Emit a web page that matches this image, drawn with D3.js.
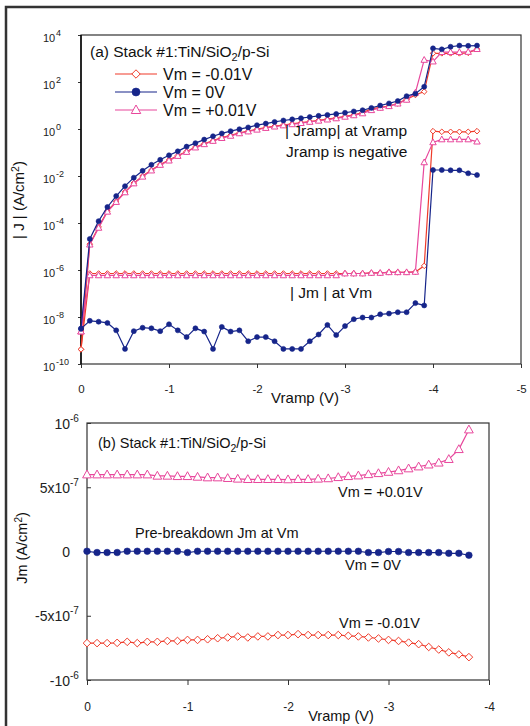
<!DOCTYPE html>
<html>
<head>
<meta charset="utf-8">
<script src="https://cdn.jsdelivr.net/npm/d3@7"></script>
<style>
  body { margin: 0; background: #fff; }
  svg { display: block; font-family: Arial, "Liberation Sans", sans-serif; }
</style>
</head>
<body>
<svg id="chart" width="530" height="726"></svg>
<script>
// ---------------- data : panel (a) ----------------
const vrampA = [0, -0.1, -0.2, -0.3, -0.4, -0.5, -0.6, -0.7, -0.8, -0.9,
  -1.0, -1.1, -1.2, -1.3, -1.4, -1.5, -1.6, -1.7, -1.8, -1.9,
  -2.0, -2.1, -2.2, -2.3, -2.4, -2.5, -2.6, -2.7, -2.8, -2.9,
  -3.0, -3.1, -3.2, -3.3, -3.4, -3.5, -3.6, -3.7, -3.8, -3.9,
  -4.0, -4.1, -4.2, -4.3, -4.4, -4.5];

// |Jramp| at Vramp (A/cm2)
const jrampNeg = [4.2e-10, 1.26e-5, 6.8e-5, 3.2e-4, 8.3e-4, 2.1e-3, 5.0e-3, 1.0e-2, 1.78e-2, 3.1e-2,
  4.8e-2, 7.4e-2, 0.11, 0.17, 0.234, 0.32, 0.43, 0.54, 0.68, 0.81,
  0.98, 1.15, 1.32, 1.48, 1.66, 1.86, 2.09, 2.34, 2.63, 2.95,
  3.47, 4.0, 5.0, 7.2, 8.3, 9.5, 12.3, 18.2, 28, 39,
  1660, 1660, 1660, 1660, 1740, 2500];
const jrampZero = [3.2e-9, 2.1e-5, 1.2e-4, 4.8e-4, 1.4e-3, 3.7e-3, 8.5e-3, 1.66e-2, 3.0e-2, 4.9e-2,
  7.6e-2, 0.112, 0.178, 0.25, 0.355, 0.49, 0.65, 0.81, 0.98, 1.17,
  1.45, 1.70, 2.0, 2.3, 2.57, 2.88, 3.24, 3.63, 3.98, 4.37,
  4.9, 5.6, 6.3, 7.9, 10, 12.3, 15.5, 25, 32, 63,
  2700, 2450, 3160, 3550, 3470, 3550];
const jrampPos = [2.4e-9, 1.2e-5, 6.2e-5, 3.0e-4, 7.8e-4, 2.0e-3, 4.8e-3, 9.3e-3, 1.7e-2, 2.95e-2,
  4.5e-2, 7.1e-2, 0.105, 0.162, 0.224, 0.31, 0.41, 0.51, 0.65, 0.78,
  0.93, 1.10, 1.26, 1.41, 1.58, 1.78, 2.0, 2.24, 2.51, 2.82,
  3.3, 3.8, 4.6, 6.3, 7.9, 9.3, 12, 17.4, 35, 870,
  740, 1860, 1860, 1860, 1900, 2500];

// |Jm| at Vm (A/cm2)
const jmNeg = [4.2e-10, 7.1e-7, 7.1e-7, 7.1e-7, 7.1e-7, 7.1e-7, 7.1e-7, 7.1e-7, 7.1e-7, 7.1e-7,
  7.1e-7, 7.1e-7, 7.1e-7, 7.1e-7, 7.1e-7, 7.1e-7, 7.1e-7, 7.1e-7, 7.1e-7, 7.1e-7,
  7.1e-7, 7.1e-7, 7.1e-7, 7.1e-7, 7.1e-7, 7.1e-7, 7.1e-7, 7.1e-7, 7.1e-7, 7.1e-7,
  7.1e-7, 7.1e-7, 7.1e-7, 7.5e-7, 7.5e-7, 8.0e-7, 8.0e-7, 8.0e-7, 8.3e-7, 1.5e-6,
  0.81, 0.76, 0.76, 0.76, 0.76, 0.81];
const jmZero = [3.2e-9, 6.9e-9, 6.3e-9, 5.6e-9, 2.7e-9, 4.4e-10, 2.5e-9, 3.5e-9, 3.3e-9, 2.5e-9,
  4.9e-9, 2.7e-9, 1.4e-9, 3.3e-9, 2.4e-9, 4.4e-10, 3.8e-9, 2.4e-9, 2.7e-9, 9.3e-10,
  1.4e-9, 1.4e-9, 9.3e-10, 4.4e-10, 4.4e-10, 4.4e-10, 9.3e-10, 1.8e-9, 4.6e-9, 1.7e-9,
  4.1e-9, 8.1e-9, 9.5e-9, 9.5e-9, 1.3e-8, 1.4e-8, 1.6e-8, 1.6e-8, 3.9e-8, 3.1e-8,
  1.8e-2, 1.8e-2, 1.75e-2, 1.75e-2, 1.3e-2, 1.1e-2];
const jmPos = [2.4e-9, 5.9e-7, 5.9e-7, 5.9e-7, 5.9e-7, 5.9e-7, 5.9e-7, 5.9e-7, 5.9e-7, 5.9e-7,
  5.9e-7, 5.9e-7, 5.9e-7, 5.9e-7, 5.9e-7, 5.9e-7, 5.9e-7, 5.9e-7, 5.9e-7, 5.9e-7,
  5.9e-7, 5.9e-7, 5.9e-7, 5.9e-7, 5.9e-7, 5.9e-7, 5.9e-7, 5.9e-7, 5.9e-7, 5.9e-7,
  7.1e-7, 7.1e-7, 7.1e-7, 7.5e-7, 7.5e-7, 8.0e-7, 8.0e-7, 8.0e-7, 8.3e-7, 3.8e-2,
  0.27, 0.36, 0.36, 0.36, 0.36, 0.29];

const xTicksA = [0, -1, -2, -3, -4, -5];
const yTicksA = [1e4, 1e2, 1, 1e-2, 1e-4, 1e-6, 1e-8, 1e-10];
const yExpA = ['4', '2', '0', '-2', '-4', '-6', '-8', '-10'];

// ---------------- data : panel (b) ----------------
const vrampB = [0, -0.1, -0.2, -0.3, -0.4, -0.5, -0.6, -0.7, -0.8, -0.9,
  -1.0, -1.1, -1.2, -1.3, -1.4, -1.5, -1.6, -1.7, -1.8, -1.9,
  -2.0, -2.1, -2.2, -2.3, -2.4, -2.5, -2.6, -2.7, -2.8, -2.9,
  -3.0, -3.1, -3.2, -3.3, -3.4, -3.5, -3.6, -3.7, -3.8];
const jmBNeg = [-7.13e-7, -7.13e-7, -7.13e-7, -7.11e-7, -7.03e-7, -7.13e-7, -7.03e-7, -7.03e-7, -6.96e-7, -6.96e-7,
  -6.88e-7, -6.88e-7, -6.83e-7, -6.75e-7, -6.69e-7, -6.61e-7, -6.69e-7, -6.61e-7, -6.61e-7, -6.50e-7,
  -6.50e-7, -6.43e-7, -6.50e-7, -6.50e-7, -6.50e-7, -6.50e-7, -6.56e-7, -6.61e-7, -6.69e-7, -6.77e-7,
  -6.88e-7, -6.96e-7, -7.09e-7, -7.21e-7, -7.43e-7, -7.63e-7, -7.85e-7, -8.01e-7, -8.22e-7];
const jmBZero = [0.02e-7, -0.08e-7, -0.08e-7, -0.08e-7, 0.02e-7, 0.02e-7, 0.02e-7, 0.02e-7, 0.02e-7, 0.02e-7,
  -0.08e-7, 0.02e-7, 0.02e-7, 0.02e-7, 0.02e-7, 0.02e-7, 0.02e-7, 0.02e-7, 0.02e-7, 0.02e-7,
  0.02e-7, 0.02e-7, 0.02e-7, 0.02e-7, 0.02e-7, 0.02e-7, 0.02e-7, 0.02e-7, -0.08e-7, -0.08e-7,
  0.0, 0.0, -0.08e-7, -0.08e-7, -0.08e-7, -0.08e-7, -0.14e-7, -0.14e-7, -0.29e-7];
const jmBPos = [5.98e-7, 5.98e-7, 5.98e-7, 5.98e-7, 5.98e-7, 5.98e-7, 5.98e-7, 5.88e-7, 5.88e-7, 5.85e-7,
  5.85e-7, 5.80e-7, 5.75e-7, 5.75e-7, 5.70e-7, 5.65e-7, 5.62e-7, 5.62e-7, 5.62e-7, 5.62e-7,
  5.60e-7, 5.62e-7, 5.62e-7, 5.65e-7, 5.68e-7, 5.77e-7, 5.85e-7, 5.90e-7, 6.00e-7, 6.08e-7,
  6.18e-7, 6.30e-7, 6.45e-7, 6.60e-7, 6.75e-7, 6.90e-7, 7.18e-7, 7.95e-7, 9.48e-7];

const xTicksB = [0, -1, -2, -3, -4];
const yTicksB = [1e-6, 5e-7, 0, -5e-7, -1e-6];
const yBaseB = ['10', '5x10', '0', '-5x10', '-10'];
const yExpB = ['-6', '-7', '', '-7', '-6'];

const legendLabels = ['Vm = -0.01V', 'Vm = 0V', 'Vm = +0.01V'];

// ---------------- styles ----------------
const RED = '#ef3b2a', BLUE = '#16258a', PINK = '#e8479c', FRAME = '#333';

const svg = d3.select('#chart');

// outer page frame
svg.append('rect')
  .attr('x', 6).attr('y', 7).attr('width', 600).attr('height', 800)
  .attr('fill', 'none').attr('stroke', '#333').attr('stroke-width', 2.5);

// marker helpers
function marker(g, kind, color, s) {
  if (kind === 'circle') {
    return g.append('circle').attr('r', s).attr('fill', color).attr('stroke', color).attr('stroke-width', 0.6);
  }
  const d = kind === 'diamond'
    ? `M0,${-s} L${s},0 L0,${s} L${-s},0 Z`
    : `M0,${-s} L${s * 0.95},${s * 0.7} L${-s * 0.95},${s * 0.7} Z`;
  return g.append('path').attr('d', d).attr('fill', '#fff').attr('stroke', color).attr('stroke-width', 1);
}

function drawSeries(root, xs, ys, x, y, color, kind, s) {
  const pts = xs.map((v, i) => [v, ys[i]]);
  root.append('path')
    .datum(pts)
    .attr('fill', 'none')
    .attr('stroke', color)
    .attr('stroke-width', 1.2)
    .attr('d', d3.line().x(d => x(d[0])).y(d => y(d[1])));
  root.append('g')
    .selectAll('g')
    .data(pts)
    .enter()
    .append('g')
    .attr('transform', d => `translate(${x(d[0])},${y(d[1])})`)
    .each(function() { marker(d3.select(this), kind, color, s); });
}

//////////////////////////////////////////////////////////////////
// panel (a)
//////////////////////////////////////////////////////////////////
const pa = { left: 81, right: 521, top: 35, bottom: 364 };
const xA = d3.scaleLinear().domain([0, -5]).range([pa.left, pa.right]);
const yA = d3.scaleLog().domain([1e-10, 1e4]).range([pa.bottom, pa.top]);

const gA = svg.append('g');

gA.append('g')
  .attr('transform', `translate(0,${pa.bottom})`)
  .call(d3.axisBottom(xA).tickValues(xTicksA).tickSize(4).tickSizeOuter(0).tickPadding(17)
    .tickFormat(d => String(d)))
  .call(g => g.select('.domain').remove())
  .call(g => g.selectAll('.tick line').attr('stroke', FRAME))
  .call(g => g.selectAll('.tick text').attr('font-size', 11.5).attr('fill', '#222'));

const yAxA = gA.append('g')
  .attr('transform', `translate(${pa.left},0)`)
  .call(d3.axisLeft(yA).tickValues(yTicksA).tickSize(3).tickSizeOuter(0).tickFormat(() => ''))
  .call(g => g.select('.domain').remove())
  .call(g => g.selectAll('.tick line').attr('stroke', FRAME));

yAxA.selectAll('.tick').each(function(d, i) {
  const t = d3.select(this);
  t.append('text').attr('x', -38).attr('y', 6).attr('text-anchor', 'start')
    .attr('font-size', 11).attr('fill', '#222').text('10');
  t.append('text').attr('x', -25).attr('y', 0).attr('text-anchor', 'start')
    .attr('font-size', 9).attr('fill', '#222').text(yExpA[i]);
});

gA.append('rect')
  .attr('x', pa.left).attr('y', pa.top)
  .attr('width', pa.right - pa.left).attr('height', pa.bottom - pa.top)
  .attr('fill', 'none').attr('stroke', FRAME).attr('stroke-width', 1.2);
gA.append('line')
  .attr('x1', pa.left).attr('x2', pa.left).attr('y1', pa.top).attr('y2', pa.bottom)
  .attr('stroke', '#000').attr('stroke-width', 1.4);

const plotA = gA.append('g');
drawSeries(plotA, vrampA, jmNeg, xA, yA, RED, 'diamond', 2.8);
drawSeries(plotA, vrampA, jrampNeg, xA, yA, RED, 'diamond', 2.8);
drawSeries(plotA, vrampA, jmPos, xA, yA, PINK, 'triangle', 3.4);
drawSeries(plotA, vrampA, jrampPos, xA, yA, PINK, 'triangle', 3.4);
drawSeries(plotA, vrampA, jmZero, xA, yA, BLUE, 'circle', 2.5);
drawSeries(plotA, vrampA, jrampZero, xA, yA, BLUE, 'circle', 2.5);

// title + legend
const titleA = gA.append('text').attr('x', 90).attr('y', 57).attr('font-size', 15.5).attr('fill', '#111');
titleA.append('tspan').text('(a) Stack #1:TiN/SiO');
titleA.append('tspan').attr('dy', 4).attr('font-size', 11).text('2');
titleA.append('tspan').attr('dy', -4).text('/p-Si');

const legendKinds = [['diamond', RED, 4.2], ['circle', BLUE, 4], ['triangle', PINK, 5]];
legendLabels.forEach((lab, i) => {
  const ly = 74 + i * 18;
  const row = gA.append('g').attr('transform', `translate(0,${ly})`);
  row.append('line').attr('x1', 115).attr('x2', 157).attr('y1', 0).attr('y2', 0)
    .attr('stroke', legendKinds[i][1]).attr('stroke-width', 1.2);
  const m = row.append('g').attr('transform', 'translate(136,0)');
  marker(m, legendKinds[i][0], legendKinds[i][1], legendKinds[i][2]);
  row.append('text').attr('x', 163).attr('y', 5.5).attr('font-size', 16).attr('fill', '#111').text(lab);
});

gA.append('text').attr('x', 285).attr('y', 136).attr('font-size', 15.5).attr('fill', '#111').text('| Jramp| at Vramp');
gA.append('text').attr('x', 286).attr('y', 157).attr('font-size', 15.5).attr('fill', '#111').text('Jramp is negative');
gA.append('text').attr('x', 290).attr('y', 298).attr('font-size', 15.5).attr('fill', '#111').text('| Jm | at Vm');

gA.append('text').attr('x', 305).attr('y', 403).attr('text-anchor', 'middle')
  .attr('font-size', 15).attr('fill', '#111').text('Vramp (V)');

const ylabA = gA.append('text').attr('transform', 'translate(24,200) rotate(-90)')
  .attr('text-anchor', 'middle').attr('font-size', 15).attr('fill', '#111');
ylabA.append('tspan').text('| J | (A/cm');
ylabA.append('tspan').attr('dy', -5).attr('font-size', 10.5).text('2');
ylabA.append('tspan').attr('dy', 5).text(')');

//////////////////////////////////////////////////////////////////
// panel (b)
//////////////////////////////////////////////////////////////////
const pb = { left: 87, right: 489, top: 423, bottom: 680 };
const xB = d3.scaleLinear().domain([0, -4]).range([pb.left, pb.right]);
const yB = d3.scaleLinear().domain([-1e-6, 1e-6]).range([pb.bottom, pb.top]);

const gB = svg.append('g');

gB.append('g')
  .attr('transform', `translate(0,${pb.bottom})`)
  .call(d3.axisBottom(xB).tickValues(xTicksB).tickSize(5).tickSizeOuter(0).tickPadding(17)
    .tickFormat(d => String(d)))
  .call(g => g.select('.domain').remove())
  .call(g => g.selectAll('.tick line').attr('stroke', FRAME))
  .call(g => g.selectAll('.tick text').attr('font-size', 12).attr('fill', '#222'));

const yAxB = gB.append('g')
  .attr('transform', `translate(${pb.left},0)`)
  .call(d3.axisRight(yB).tickValues(yTicksB).tickSize(4).tickSizeOuter(0).tickFormat(() => ''))
  .call(g => g.select('.domain').remove())
  .call(g => g.selectAll('.tick line').attr('stroke', FRAME));

yAxB.selectAll('.tick').each(function(d, i) {
  const t = d3.select(this);
  t.append('text').attr('x', -17).attr('y', 5).attr('text-anchor', 'end')
    .attr('font-size', 14).attr('fill', '#222').text(yBaseB[i]);
  if (yExpB[i]) {
    t.append('text').attr('x', -17).attr('y', -2).attr('text-anchor', 'start')
      .attr('font-size', 10).attr('fill', '#222').text(yExpB[i]);
  }
});

gB.append('rect')
  .attr('x', pb.left).attr('y', pb.top)
  .attr('width', pb.right - pb.left).attr('height', pb.bottom - pb.top)
  .attr('fill', 'none').attr('stroke', FRAME).attr('stroke-width', 1.2);

const plotB = gB.append('g');
drawSeries(plotB, vrampB, jmBNeg, xB, yB, RED, 'diamond', 3.8);
drawSeries(plotB, vrampB, jmBPos, xB, yB, PINK, 'triangle', 4.6);
drawSeries(plotB, vrampB, jmBZero, xB, yB, BLUE, 'circle', 3.3);

const titleB = gB.append('text').attr('x', 98).attr('y', 448).attr('font-size', 14.5).attr('fill', '#111');
titleB.append('tspan').text('(b)  Stack #1:TiN/SiO');
titleB.append('tspan').attr('dy', 4).attr('font-size', 10.5).text('2');
titleB.append('tspan').attr('dy', -4).text('/p-Si');

gB.append('text').attr('x', 338).attr('y', 497).attr('font-size', 14.5).attr('fill', '#111').text('Vm = +0.01V');
gB.append('text').attr('x', 135).attr('y', 538).attr('font-size', 14.5).attr('fill', '#111').text('Pre-breakdown Jm at Vm');
gB.append('text').attr('x', 345).attr('y', 570).attr('font-size', 14.5).attr('fill', '#111').text('Vm = 0V');
gB.append('text').attr('x', 339).attr('y', 628).attr('font-size', 14.5).attr('fill', '#111').text('Vm = -0.01V');

gB.append('text').attr('x', 341).attr('y', 721).attr('text-anchor', 'middle')
  .attr('font-size', 14.5).attr('fill', '#111').text('Vramp (V)');

const ylabB = gB.append('text').attr('transform', 'translate(27,548) rotate(-90)')
  .attr('text-anchor', 'middle').attr('font-size', 14.5).attr('fill', '#111');
ylabB.append('tspan').text('Jm  (A/cm');
ylabB.append('tspan').attr('dy', -5).attr('font-size', 10).text('2');
ylabB.append('tspan').attr('dy', 5).text(')');
</script>
</body>
</html>
